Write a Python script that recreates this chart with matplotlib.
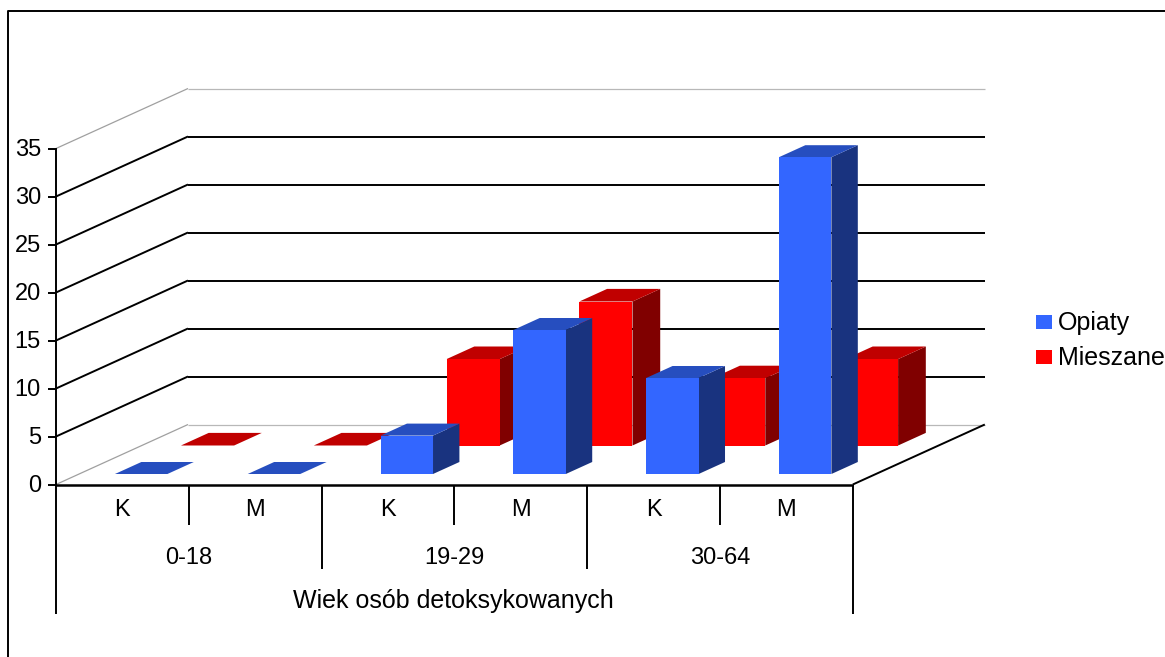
# 3D-look bar chart, drawn by hand since the picture has a skewed floor and wall
import matplotlib
matplotlib.use("Agg")
import matplotlib.pyplot as plt
from matplotlib.patches import Polygon, Rectangle

plt.rcParams['font.family'] = ['Liberation Sans', 'DejaVu Sans']

# data
sex_labels = ["K", "M", "K", "M", "K", "M"]
age_labels = ["0-18", "19-29", "30-64"]
axis_title = "Wiek osób detoksykowanych"
opiaty = [0, 0, 4, 15, 10, 33]
mieszane = [0, 0, 9, 15, 7, 9]
y_ticks = [0, 5, 10, 15, 20, 25, 30, 35]

fig = plt.figure(figsize=(11.65, 6.57), dpi=100)
ax = fig.add_axes([0, 0, 1, 1])
ax.set_xlim(0, 1165)
ax.set_ylim(657, 0)
ax.axis('off')


# value space -> pixels: x in categories, v in chart units, d = depth 0..1
def pos(x, v, d=0.0):
    return (56 + x * 132.8 + d * 132, 484.5 - v * 9.6 - d * 60)


def line(p, q, color='black', lw=1.4, z=1):
    ax.plot([p[0], q[0]], [p[1], q[1]], color=color, lw=lw, zorder=z, solid_capstyle='butt')


def bar3d(x, w, v, d0, d1, front, top, side, z):
    ax.add_patch(Polygon([pos(x + w, 0, d0), pos(x + w, 0, d1), pos(x + w, v, d1), pos(x + w, v, d0)],
                         fc=side, ec='none', zorder=z))
    ax.add_patch(Polygon([pos(x, v, d0), pos(x + w, v, d0), pos(x + w, v, d1), pos(x, v, d1)],
                         fc=top, ec='none', zorder=z))
    if v > 0:
        ax.add_patch(Polygon([pos(x, 0, d0), pos(x + w, 0, d0), pos(x + w, v, d0), pos(x, v, d0)],
                             fc=front, ec='none', zorder=z))


# outer frame, open on the right and at the bottom
ax.plot([8, 8, 1165], [657, 11, 11], color='black', lw=1.4, zorder=1)

# grid on the wall
for t in y_ticks:
    edge = t in (0, 35)
    line(pos(0, t), pos(0, t, 1), color='#a0a0a0' if edge else 'black', lw=0.9 if edge else 1.4)
    line(pos(0, t, 1), pos(6, t, 1), color='#b8b8b8' if edge else 'black', lw=0.9 if edge else 1.4)

# floor edges
line(pos(6, 0), pos(6, 0, 1), lw=1.4, z=1)

# bars, back row first so the blue row sits in front
for i, v in enumerate(mieszane):
    bar3d(i + 0.295, 0.40, v, 0.65, 0.86, '#ff0000', '#c00000', '#800000', 3 + i * 0.01)
for i, v in enumerate(opiaty):
    bar3d(i + 0.27, 0.395, v, 0.175, 0.375, '#3366ff', '#264ebf', '#19337f', 5 + i * 0.01)

# value axis
line((56, 148), (56, 614), z=6)
for t in y_ticks:
    x0, y0 = pos(0, t)
    line((x0 - 8, y0), (x0, y0), z=6)
    ax.text(41, y0 + 2, str(t), ha='right', va='center', fontsize=17, color='black')

# category axis with its two label levels
line(pos(0, 0), pos(6, 0), lw=1.8, z=6)
for i, lab in enumerate(sex_labels):
    ax.text(pos(i + 0.5, 0)[0], 510, lab, ha='center', va='center', fontsize=17)
for i in range(1, 6):
    bottom = 569 if i % 2 == 0 else 525
    line(pos(i, 0), (pos(i, 0)[0], bottom), z=6)
for i, lab in enumerate(age_labels):
    ax.text(pos(2 * i + 1, 0)[0], 558, lab, ha='center', va='center', fontsize=17)
line(pos(6, 0), (pos(6, 0)[0], 614), z=6)
ax.text(453.5, 601, axis_title, ha='center', va='center', fontsize=18)

# legend
ax.add_patch(Rectangle((1036, 315), 16, 14, fc='#3366ff', ec='none'))
ax.add_patch(Rectangle((1036, 350), 16, 14, fc='#ff0000', ec='none'))
ax.text(1058, 323, "Opiaty", va='center', fontsize=18)
ax.text(1058, 358, "Mieszane", va='center', fontsize=18)

fig.savefig("out.png", dpi=100)
